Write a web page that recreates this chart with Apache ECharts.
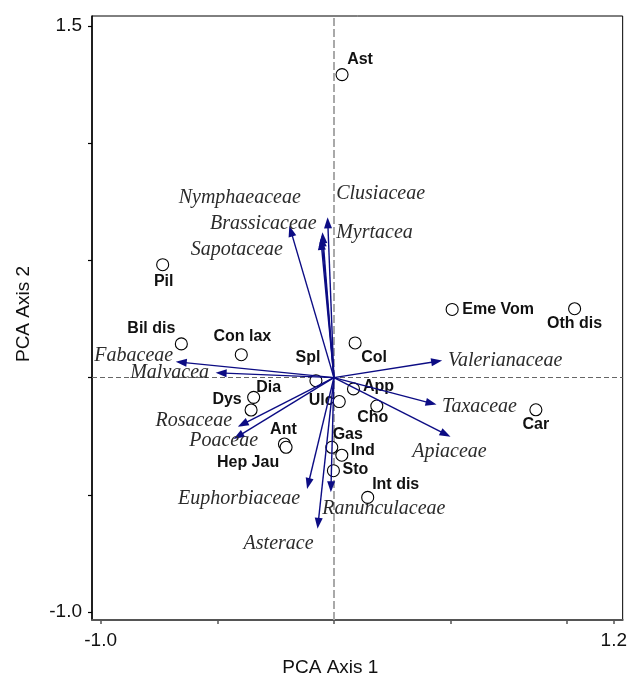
<!DOCTYPE html>
<html>
<head>
<meta charset="utf-8">
<title>PCA biplot</title>
<script src="https://cdn.jsdelivr.net/npm/echarts@6/dist/echarts.min.js"></script>
<style>
  html, body { margin: 0; padding: 0; background: #fff; }
  #chart { width: 630px; height: 682px; }
</style>
</head>
<body>
<div id="chart"></div>
<script>
// Sample scores (circles) on the first two PCA axes
const sampleNames = ['Ast', 'Pil', 'Bil dis', 'Con lax', 'Spl', 'Col', 'Eme Vom', 'Oth dis', 'Car', 'App',
  'Cho', 'Ulc', 'Dia', 'Dys', 'Ant', 'Hep Jau', 'Gas', 'Ind', 'Sto', 'Int dis'];
const sampleAxis1 = [0.035, -0.734, -0.654, -0.397, -0.077, 0.091, 0.507, 1.032, 0.866, 0.084,
  0.184, 0.023, -0.344, -0.355, -0.212, -0.205, -0.009, 0.034, -0.002, 0.145];
const sampleAxis2 = [1.293, 0.482, 0.144, 0.098, -0.013, 0.148, 0.291, 0.294, -0.137, -0.048,
  -0.121, -0.102, -0.084, -0.138, -0.283, -0.297, -0.297, -0.331, -0.397, -0.511];

// Family loadings (arrows from the origin)
const familyNames = ['Nymphaeaceae', 'Brassicaceae', 'Sapotaceae', 'Clusiaceae', 'Myrtacea',
  'Fabaceae', 'Malvacea', 'Rosaceae', 'Poaceae', 'Euphorbiaceae', 'Asterace', 'Ranunculaceae',
  'Apiaceae', 'Taxaceae', 'Valerianaceae'];
const familyAxis1 = [-0.052, -0.191, -0.056, -0.027, -0.049,
  -0.678, -0.507, -0.412, -0.430, -0.115, -0.070, -0.013,
  0.500, 0.440, 0.464];
const familyAxis2 = [0.606, 0.648, 0.592, 0.684, 0.620,
  0.068, 0.021, -0.209, -0.262, -0.475, -0.645, -0.489,
  -0.252, -0.115, 0.073];

// Tick positions and labelled ticks
const xTicks = [-1.0, -0.5, 0, 0.5, 1.0, 1.2];
const xTickLabels = [-1.0, 1.2];
const yTicks = [-1.0, -0.5, 0, 0.5, 1.0, 1.5];
const yTickLabels = [-1.0, 1.5];

// Label placement (pixel offsets from the mark)
const sampleLabelOffset = {
  'Ast': [18, -15], 'Pil': [1, 17], 'Bil dis': [-30, -15], 'Con lax': [1, -18], 'Spl': [-8, -23],
  'Col': [19, 15], 'Eme Vom': [46, 0], 'Oth dis': [0, 15], 'Car': [0, 15], 'App': [25, -2],
  'Cho': [-4, 12], 'Ulc': [-18, -1], 'Dia': [15, -10], 'Dys': [-24, -10], 'Ant': [-1, -14],
  'Hep Jau': [-38, 15], 'Gas': [16, -13], 'Ind': [21, -5], 'Sto': [22, -1], 'Int dis': [28, -13]
};
const familyLabelOffset = {
  'Nymphaeaceae': [-82, -38], 'Brassicaceae': [-26, -2], 'Sapotaceae': [-84, 11],
  'Clusiaceae': [53, -24], 'Myrtacea': [52, 0], 'Fabaceae': [-42, -6], 'Malvacea': [-46, 0],
  'Rosaceae': [-44, -6], 'Poaceae': [-10, 2], 'Euphorbiaceae': [-68, 10], 'Asterace': [-39, 15],
  'Ranunculaceae': [53, 16], 'Apiaceae': [-1, 15], 'Taxaceae': [43, 2], 'Valerianaceae': [63, 0]
};

const arrowColor = '#0c0c84';
const sansFont = '"Liberation Sans", Arial, sans-serif';
const serifFont = '"Liberation Serif", "Times New Roman", serif';

const chart = echarts.init(document.getElementById('chart'), null, { renderer: 'canvas' });

function renderArrow(params, api) {
  const o = api.coord([0, 0]);
  const t = api.coord([api.value(0), api.value(1)]);
  const dx = t[0] - o[0], dy = t[1] - o[1];
  const len = Math.hypot(dx, dy) || 1;
  const ux = dx / len, uy = dy / len;
  const headL = 11, headW = 4;
  const bx = t[0] - ux * headL, by = t[1] - uy * headL;
  const name = familyNames[params.dataIndex];
  const off = familyLabelOffset[name] || [0, 0];
  return {
    type: 'group',
    children: [
      { type: 'line', shape: { x1: o[0], y1: o[1], x2: bx + ux * 2, y2: by + uy * 2 },
        style: { stroke: arrowColor, lineWidth: 1.4 } },
      { type: 'polygon',
        shape: { points: [[t[0], t[1]], [bx - uy * headW, by + ux * headW], [bx + uy * headW, by - ux * headW]] },
        style: { fill: arrowColor } },
      { type: 'text',
        style: { x: t[0] + off[0], y: t[1] + off[1], text: name,
          font: 'italic 20px ' + serifFont, fill: '#2b2b2b', align: 'center', verticalAlign: 'middle' } }
    ]
  };
}

const option = {
  animation: false,
  backgroundColor: '#fff',
  grid: { left: 92, right: 6, top: 16, bottom: 62, show: true, borderColor: '#000', borderWidth: 1 },
  xAxis: {
    type: 'value', min: -1.037, max: 1.238,
    splitLine: { show: false },
    axisLine: { show: true, onZero: false, lineStyle: { color: '#555', width: 2 } },
    axisTick: { show: true, customValues: xTicks, length: 4, lineStyle: { color: '#555', width: 1.5 } },
    axisLabel: { customValues: xTickLabels, formatter: v => v.toFixed(1), fontSize: 19,
      fontFamily: sansFont, color: '#111', margin: 11 },
    name: 'PCA Axis 1', nameLocation: 'middle', nameGap: 38,
    nameTextStyle: { fontSize: 19, fontFamily: sansFont, color: '#111', padding: [0, 54, 0, 0] }
  },
  yAxis: {
    type: 'value', min: -1.034, max: 1.543,
    splitLine: { show: false },
    axisLine: { show: true, onZero: false, lineStyle: { color: '#000', width: 1.5 } },
    axisTick: { show: true, customValues: yTicks, length: 4, lineStyle: { color: '#000', width: 1.2 } },
    axisLabel: { customValues: yTickLabels, formatter: v => v.toFixed(1), fontSize: 19,
      fontFamily: sansFont, color: '#111', margin: 10 },
    name: 'PCA Axis 2', nameLocation: 'middle', nameGap: 59,
    nameTextStyle: { fontSize: 19, fontFamily: sansFont, color: '#111', padding: [0, 0, 0, 8] }
  },
  series: [
    {
      type: 'scatter',
      z: 2,
      symbol: 'circle',
      symbolSize: 12,
      itemStyle: { color: '#fff', borderColor: '#000', borderWidth: 1.1, opacity: 1 },
      label: {
        show: true, position: 'inside', formatter: '{b}',
        fontSize: 16, fontWeight: 'bold', fontFamily: sansFont, color: '#111'
      },
      data: sampleNames.map((n, i) => ({
        name: n, value: [sampleAxis1[i], sampleAxis2[i]],
        label: { offset: sampleLabelOffset[n] }
      })),
      markLine: {
        silent: true, symbol: ['none', 'none'], label: { show: false }, z: 1,
        data: [
          { xAxis: 0, lineStyle: { color: '#a9a9a9', type: [8, 3], width: 2 } },
          { yAxis: 0, lineStyle: { color: '#666', type: [5, 3], width: 1 } }
        ]
      }
    },
    {
      type: 'custom',
      z: 3,
      renderItem: renderArrow,
      data: familyNames.map((n, i) => [familyAxis1[i], familyAxis2[i]])
    }
  ]
};

chart.setOption(option);
</script>
</body>
</html>
